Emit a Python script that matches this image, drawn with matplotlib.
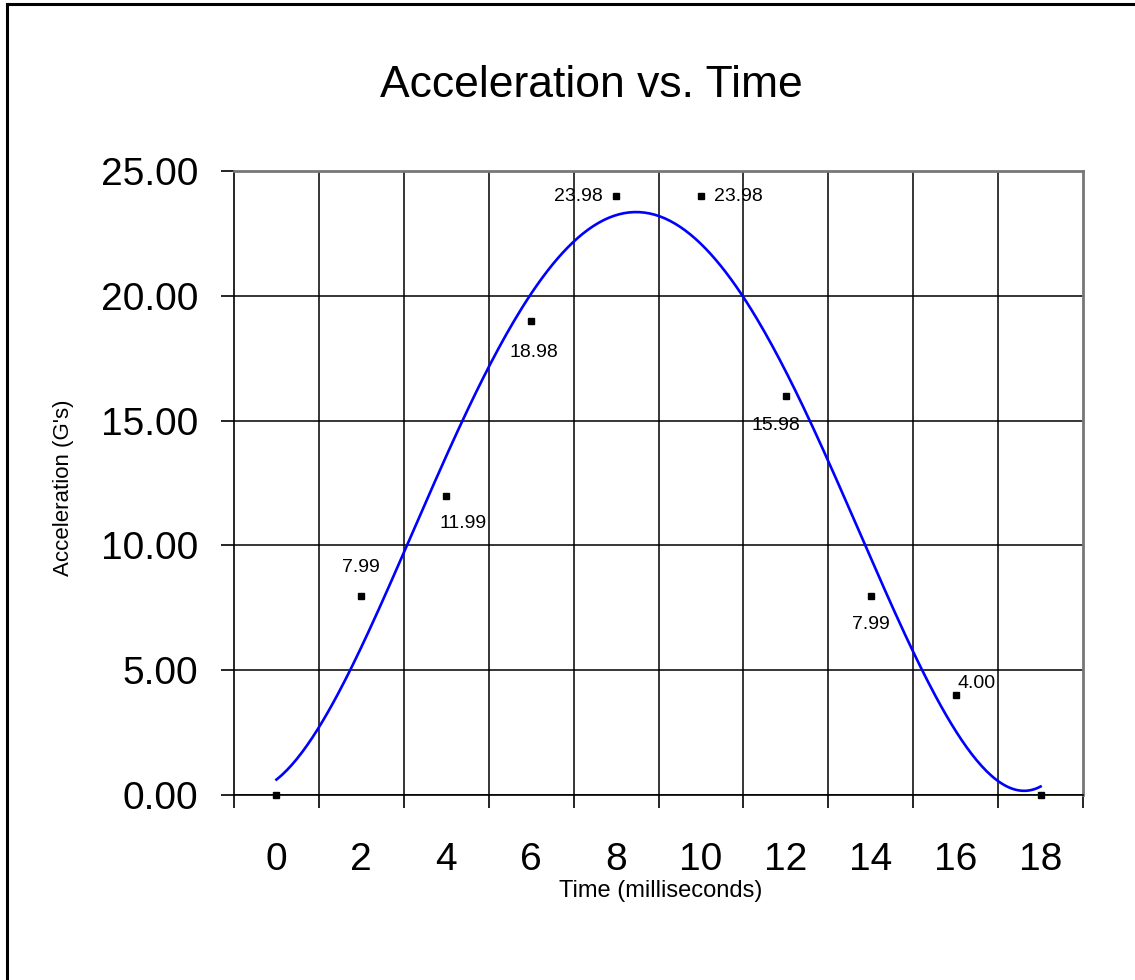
import numpy as np
import matplotlib
matplotlib.use("Agg")
import matplotlib.pyplot as plt
from matplotlib.patches import Rectangle

plt.rcParams['font.family'] = ['Liberation Sans', 'DejaVu Sans']

times = [0, 2, 4, 6, 8, 10, 12, 14, 16, 18]
accel = [0.00, 7.99, 11.99, 18.98, 23.98, 23.98, 15.98, 7.99, 4.00, 0.00]
point_labels = [None, "7.99", "11.99", "18.98", "23.98", "23.98", "15.98", "7.99", "4.00", None]
y_ticks = [0, 5, 10, 15, 20, 25]

# label offsets in pixels (dx, dy) and horizontal alignment
label_offsets = [None, (0, 28, 'center'), (17, -28, 'center'), (3, -31, 'center'),
                 (-13, 0, 'right'), (13, 0, 'left'), (-10, -29, 'center'),
                 (0, -29, 'center'), (2, 12, 'left'), None]

fig = plt.figure(figsize=(11.35, 9.8), dpi=100)
W, H = 1135, 980
ax = fig.add_axes([234 / W, (H - 795) / H, 849 / W, 624 / H])

pos = np.arange(len(times))

# polynomial trendline (order 4), fitted on category index 1..n as Excel does
xi = pos + 1
coef = np.polyfit(xi, accel, 4)
xs = np.linspace(xi[0], xi[-1], 300)
ax.plot(xs - 1, np.polyval(coef, xs), color='#0000FF', lw=1.9, zorder=3)

ax.plot(pos, accel, linestyle='none', marker='s', ms=4.2, color='black',
        zorder=5, clip_on=False)

for p, v, lab, off in zip(pos, accel, point_labels, label_offsets):
    if lab is None:
        continue
    dx, dy, ha = off
    ax.annotate(lab, (p, v), xytext=(dx, dy), textcoords='offset pixels',
                ha=ha, va='center', fontsize=14, color='black')

ax.set_xlim(-0.5, len(times) - 0.5)
ax.set_ylim(0, 25)

ax.set_yticks(y_ticks)
ax.set_yticklabels([f"{t:.2f}" for t in y_ticks])
ax.set_xticks(pos)
ax.set_xticklabels([str(t) for t in times])
ax.set_xticks(np.arange(-0.5, len(times), 1.0), minor=True)

ax.tick_params(axis='y', which='major', direction='out', length=9.5, width=1.2,
               labelsize=28, pad=16, colors='black')
ax.tick_params(axis='x', which='major', length=0, labelsize=28, pad=34)
ax.tick_params(axis='x', which='minor', direction='out', length=9.5, width=1.2)

for y in y_ticks[:-1]:
    ax.axhline(y, color='black', lw=1.1, zorder=1)
for x in np.arange(-0.5, len(times), 1.0)[1:-1]:
    ax.axvline(x, color='black', lw=1.1, zorder=1)

for s in ['top', 'right']:
    ax.spines[s].set_color('#777777')
    ax.spines[s].set_linewidth(2)
for s in ['left', 'bottom']:
    ax.spines[s].set_color('black')
    ax.spines[s].set_linewidth(1.2)

fig.text(63 / W, (H - 488) / H, "Acceleration (G's)", fontsize=16,
         rotation=90, ha='center', va='center')
fig.text(661 / W, (H - 891) / H, "Time (milliseconds)", fontsize=17,
         ha='center', va='center')

fig.text(591 / W, (H - 97) / H, "Acceleration vs. Time", fontsize=32,
         ha='center', va='baseline')

fig.patches.append(Rectangle((7 / W, -0.1), 1.2, (H - 4) / H + 0.1,
                             transform=fig.transFigure, fill=False,
                             edgecolor='black', lw=2.2, figure=fig))

fig.savefig("out.png", dpi=100)
